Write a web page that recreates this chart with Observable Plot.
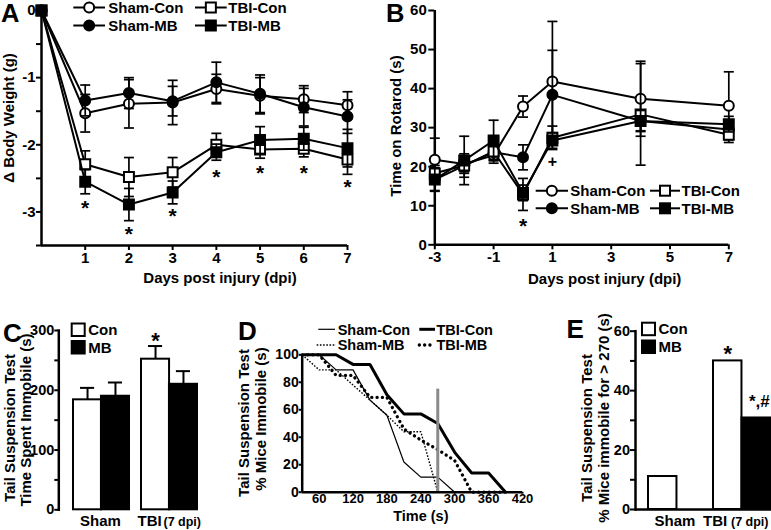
<!DOCTYPE html>
<html>
<head>
<meta charset="utf-8">
<script src="https://cdn.jsdelivr.net/npm/d3@7"></script>
<script src="https://cdn.jsdelivr.net/npm/@observablehq/plot@0.6"></script>
<style>
html,body{margin:0;padding:0;background:#fff;}
#fig{position:relative;width:771px;height:530px;overflow:hidden;background:#fff;}
#fig svg{position:absolute;overflow:visible;background:transparent;}
</style>
</head>
<body>
<div id="fig"></div>
<script>
const FONT = '"Liberation Sans", Arial, Helvetica, sans-serif';

// ================= DATA =================
const seriesNames = ["Sham-Con", "Sham-MB", "TBI-Con", "TBI-MB"];

// Panel A : change in body weight (g)
const daysA = [0, 1, 2, 3, 4, 5, 6, 7];
const shamConA = [0, -1.53, -1.39, -1.37, -1.17, -1.27, -1.32, -1.41];
const shamMBA  = [0, -1.34, -1.23, -1.35, -1.07, -1.24, -1.44, -1.58];
const tbiConA  = [0, -2.29, -2.48, -2.41, -2.00, -2.07, -2.06, -2.22];
const tbiMBA   = [0, -2.55, -2.89, -2.71, -2.11, -1.93, -1.91, -2.05];
const shamConErrA = [0, 0.28, 0.36, 0.33, 0.22, 0.27, 0.2, 0.2];
const shamMBErrA  = [0, 0.23, 0.23, 0.22, 0.3, 0.28, 0.28, 0.25];
const tbiConErrA  = [0, 0.2, 0.29, 0.22, 0.17, 0.13, 0.12, 0.22];
const tbiMBErrA   = [0, 0.18, 0.24, 0.17, 0.12, 0.2, 0.17, 0.28];
const starDaysA = [1, 2, 3, 4, 5, 6, 7];
const starYA = [-2.86, -3.25, -2.97, -2.40, -2.34, -2.34, -2.55];
const xTicksA = [1, 2, 3, 4, 5, 6, 7];
const yTicksA = [0, -1, -2, -3];
const yMinorA = [-0.5, -1.5, -2.5, -3.5];

// Panel B : time on rotarod (s)
const daysB = [-3, -2, -1, 0, 1, 4, 7];
const shamConB = [21.8, 20.7, 22.9, 35.4, 41.8, 37.4, 35.6];
const shamMBB  = [16.7, 20.3, 23.7, 22.4, 38.4, 31.7, 29.5];
const tbiConB  = [18.3, 20.3, 23.9, 12.9, 27.4, 33.4, 28.2];
const tbiMBB   = [16.7, 21.6, 26.7, 13.3, 26.7, 31.7, 30.9];
const shamConErrB = [5.5, 2, 2, 2.7, 15.4, 9.6, 8.7];
const shamMBErrB  = [2.8, 3, 2, 3.2, 11.4, 2.5, 2];
const tbiConErrB  = [2, 2, 2, 4.1, 3, 13, 2];
const tbiMBErrB   = [3, 6.2, 5.2, 2, 2, 2.7, 2];
const starXB = [0];  const starYB = [6.2];
const plusXB = [1];  const plusYB = [21.2];
const xTicksB = [-3, -1, 1, 3, 5, 7];
const yTicksB = [0, 10, 20, 30, 40, 50, 60];

// Panel C : time spent immobile (s)
const groupsCE = ["Sham", "TBI"];
const conC = [184, 252];
const mbC = [190, 210];
const conErrC = [20, 22];
const mbErrC = [23, 22];
const starsC = [{group: "TBI", treat: "Con", y: 292, label: "*"}];
const yTicksC = [0, 100, 200, 300];
const yMinorC = [50, 150, 250];

// Panel D : % mice immobile over time
const timeD = [30, 60, 90, 120, 150, 180, 210, 240, 270, 300, 330, 360, 390];
const shamConD = [100, 100, 89, 89, 67, 56, 22, 11, 11, 0, 0, 0, 0];
const shamMBD  = [100, 89, 89, 78, 67, 56, 44, 44, 0, 0, 0, 0, 0];
const tbiConD  = [100, 100, 100, 93, 93, 71, 57, 57, 50, 29, 14, 14, 0];
const tbiMBD   = [100, 100, 85, 85, 69, 69, 46, 38, 31, 23, 0, 0, 0];
const cutoffD = 270;
const cutoffTopD = 75;
const xTicksD = [60, 120, 180, 240, 300, 360, 420];
const yTicksD = [0, 20, 40, 60, 80, 100];

// Panel E : % mice immobile for > 270 s
const conE = [11.1, 50];
const mbE = [0, 30.8];
const starsE = [{group: "TBI", treat: "Con", y: 54.4, label: "*"}, {group: "TBI", treat: "MB", y: 36.5, label: "*,#"}];
const yTicksE = [0, 20, 40, 60];
const yMinorE = [10, 30, 50];

// ================= STYLE =================
const seriesSymbol = ["circle", "circle", "square", "square"];
const seriesFill = ["white", "black", "white", "black"];
const capSym = {draw(ctx, size) { const r = Math.sqrt(size / Math.PI); ctx.moveTo(-r, 0); ctx.lineTo(r, 0); }};
const fig = document.getElementById("fig");
function place(node, left, top) { node.style.left = left + "px"; node.style.top = top + "px"; fig.appendChild(node); }
const fmt = d => String(d);

function seriesMarks(xs, vals, errs, k, capR) {
  const rows = xs.map((x, i) => ({x, v: vals[i], e: errs[i]}));
  const eb = rows.filter(d => d.e > 0);
  const sym = seriesSymbol[k];
  return [
    Plot.ruleX(eb, {x: "x", y1: d => d.v - d.e, y2: d => d.v + d.e, stroke: "black", strokeWidth: 1.7}),
    Plot.dot(eb, {x: "x", y: d => d.v + d.e, symbol: capSym, r: capR, fill: "none", stroke: "black", strokeWidth: 1.7}),
    Plot.dot(eb, {x: "x", y: d => d.v - d.e, symbol: capSym, r: capR, fill: "none", stroke: "black", strokeWidth: 1.7}),
    Plot.line(rows, {x: "x", y: "v", stroke: "black", strokeWidth: 2, strokeLinejoin: "miter", curve: "linear"}),
    Plot.dot(rows, {x: "x", y: "v", symbol: sym, r: sym === "square" ? 5.6 : 5, fill: seriesFill[k], stroke: "black", strokeWidth: 2})
  ];
}
const baseStyle = size => ({fontFamily: FONT, fontSize: size, fontWeight: "bold", background: "transparent", color: "black", overflow: "visible"});

// ================= PANEL A =================
const valsA = [shamConA, shamMBA, tbiConA, tbiMBA];
const errsA = [shamConErrA, shamMBErrA, tbiConErrA, tbiMBErrA];
const plotA = Plot.plot({
  width: 385, height: 300,
  marginLeft: 41, marginRight: 38, marginTop: 10, marginBottom: 55,
  x: {domain: [0, 7], label: null},
  y: {domain: [-3.5, 0], label: null},
  style: baseStyle("15px"),
  marks: [
    Plot.axisY(yMinorA, {tickSize: 5, tickFormat: () => "", strokeWidth: 2, label: null}),
    Plot.axisY(yTicksA, {tickSize: 5, tickPadding: 1, tickFormat: fmt, strokeWidth: 2, label: null}),
    Plot.axisX(xTicksA, {tickSize: 5, tickPadding: 2, tickFormat: fmt, strokeWidth: 2, label: null}),
    Plot.ruleX([0], {strokeWidth: 2.5}),
    Plot.ruleY([-3.5], {strokeWidth: 2.5}),
    ...valsA.flatMap((v, k) => seriesMarks(daysA, v, errsA[k], k, 5)),
    Plot.text(starDaysA, {x: d => d, y: (d, i) => starYA[i], text: () => "*", fontSize: 21, dy: 6})
  ]
});
place(plotA, 0, 0);

// ================= PANEL B =================
const valsB = [shamConB, shamMBB, tbiConB, tbiMBB];
const errsB = [shamConErrB, shamMBErrB, tbiConErrB, tbiMBErrB];
const plotB = Plot.plot({
  width: 386, height: 300,
  marginLeft: 49.3, marginRight: 42.7, marginTop: 10, marginBottom: 55.7,
  x: {domain: [-3, 7], label: null},
  y: {domain: [0, 60], label: null},
  style: baseStyle("15px"),
  marks: [
    Plot.axisY(yTicksB, {tickSize: 6, tickPadding: 2, tickFormat: fmt, strokeWidth: 2, label: null}),
    Plot.axisX(xTicksB, {tickSize: 5, tickPadding: 2, tickFormat: fmt, strokeWidth: 2, label: null}),
    Plot.ruleX([-3], {strokeWidth: 2.5}),
    Plot.ruleY([0], {strokeWidth: 2.5}),
    ...valsB.flatMap((v, k) => seriesMarks(daysB, v, errsB[k], k, 5)),
    Plot.text(starXB, {x: d => d, y: (d, i) => starYB[i], text: () => "*", fontSize: 21, dy: 6}),
    Plot.text(plusXB, {x: d => d, y: (d, i) => plusYB[i], text: () => "+", fontSize: 16})
  ]
});
place(plotB, 385, 0);

// ================= BAR PANELS (C, E) =================
function barPanel(cfg) {
  const band = d3.scaleBand(groupsCE, [cfg.ml, cfg.width - cfg.mr]).paddingInner(cfg.pi).paddingOuter(cfg.po).align(cfg.align);
  const bw = band.bandwidth();
  const rows = groupsCE.flatMap((g, i) => [
    {g, t: "Con", v: cfg.con[i], e: cfg.conErr ? cfg.conErr[i] : 0},
    {g, t: "MB", v: cfg.mb[i], e: cfg.mbErr ? cfg.mbErr[i] : 0}
  ]);
  const con = rows.filter(d => d.t === "Con"), mb = rows.filter(d => d.t === "MB");
  const cap = 7;
  const errMarks = cfg.conErr ? [
    Plot.ruleX(con, {x: "g", y1: "v", y2: d => d.v + d.e, dx: -bw / 4, strokeWidth: 2}),
    Plot.ruleX(mb, {x: "g", y1: "v", y2: d => d.v + d.e, dx: bw / 4, strokeWidth: 2}),
    Plot.tickY(con, {x: "g", y: d => d.v + d.e, insetLeft: bw / 4 - cap, insetRight: 3 * bw / 4 - cap, strokeWidth: 2}),
    Plot.tickY(mb, {x: "g", y: d => d.v + d.e, insetLeft: 3 * bw / 4 - cap, insetRight: bw / 4 - cap, strokeWidth: 2})
  ] : [];
  const single = cfg.stars.filter(d => d.label === "*");
  const multi = cfg.stars.filter(d => d.label !== "*");
  return Plot.plot({
    width: cfg.width, height: 220,
    marginLeft: cfg.ml, marginRight: cfg.mr, marginTop: cfg.mt, marginBottom: cfg.mb_,
    x: {domain: groupsCE, paddingInner: cfg.pi, paddingOuter: cfg.po, align: cfg.align, label: null, axis: null},
    y: {domain: cfg.yDomain, label: null},
    style: baseStyle("14.5px"),
    marks: [
      Plot.axisY(cfg.yMinor, {tickSize: cfg.tick, tickFormat: () => "", strokeWidth: 2, label: null}),
      Plot.axisY(cfg.yTicks, {tickSize: cfg.tick, tickPadding: 0.5, tickFormat: fmt, strokeWidth: 2, label: null}),
      ...errMarks,
      Plot.barY(con, {x: "g", y: "v", fill: "white", stroke: "black", strokeWidth: 2, insetRight: bw / 2}),
      Plot.barY(mb, {x: "g", y: "v", fill: "black", stroke: "black", strokeWidth: 2, insetLeft: bw / 2}),
      Plot.frame({anchor: "left", strokeWidth: 2.5}),
      ...(cfg.baseline ? [Plot.ruleY([0], {strokeWidth: 2.5})] : []),
      Plot.text(single.filter(d => d.treat === "Con"), {x: "group", y: "y", text: "label", dx: -bw / 4, fontSize: 22, dy: 6}),
      Plot.text(single.filter(d => d.treat === "MB"), {x: "group", y: "y", text: "label", dx: bw / 4, fontSize: 22, dy: 6}),
      Plot.text(multi, {x: "group", y: "y", text: "label", dx: bw / 4 + 3, fontSize: 17, dy: 1}),
      Plot.text(groupsCE.slice(0, 1), {x: d => d, text: d => d, frameAnchor: "bottom", lineAnchor: "top", dy: 6, dx: cfg.shamDx, fontSize: 15}),
      Plot.text(groupsCE.slice(1), {x: d => d, text: d => d, frameAnchor: "bottom", lineAnchor: "top", dy: 6, dx: cfg.tbiDx, textAnchor: "start", fontSize: 15}),
      Plot.text(groupsCE.slice(1), {x: d => d, text: () => "(7 dpi)", frameAnchor: "bottom", lineAnchor: "top", dy: 7.5, dx: cfg.noteDx, textAnchor: "start", fontSize: 12.5})
    ]
  });
}

const plotC = barPanel({
  width: 230, ml: 58.3, mr: 17.7, mt: 20, mb_: 20.7, pi: 0.18, po: 0.22, align: 0.5,
  con: conC, mb: mbC, conErr: conErrC, mbErr: mbErrC, yDomain: [0, 300], yTicks: yTicksC, yMinor: yMinorC, tick: 4,
  stars: starsC, baseline: false, shamDx: -1, tbiDx: -32, noteDx: -6
});
place(plotC, 0, 310);

const plotE = barPanel({
  width: 216, ml: 75, mr: 0.7, mt: 20.7, mb_: 21, pi: 0.125, po: 0.138, align: 0.68,
  con: conE, mb: mbE, yDomain: [0, 60], yTicks: yTicksE, yMinor: yMinorE, tick: 5,
  stars: starsE, baseline: true, shamDx: -2, tbiDx: -39, noteDx: -11
});
place(plotE, 560, 310);

// ================= PANEL D =================
const lineStylesD = [
  {w: 1.2, dash: null, cap: "butt"},
  {w: 1.4, dash: "1.6,1.6", cap: "butt"},
  {w: 3, dash: null, cap: "butt"},
  {w: 3.3, dash: "0.1,5.2", cap: "round"}
];
const valsD = [shamConD, shamMBD, tbiConD, tbiMBD];
const plotD = Plot.plot({
  width: 300, height: 220,
  marginLeft: 71.7, marginRight: 8, marginTop: 44.3, marginBottom: 38.3,
  x: {domain: [30, 420], label: null},
  y: {domain: [0, 100], label: null},
  style: baseStyle("14px"),
  marks: [
    Plot.axisY(yTicksD, {tickSize: 3, tickPadding: 0.5, tickFormat: fmt, strokeWidth: 2, label: null}),
    Plot.axisX(xTicksD, {tickSize: 2, tickPadding: 0, tickFormat: fmt, strokeWidth: 2, label: null, fontSize: 13}),
    ...valsD.map((v, k) => Plot.line(timeD.map((t, i) => ({t, v: v[i]})), {
      x: "t", y: "v", stroke: "black", strokeWidth: lineStylesD[k].w,
      strokeDasharray: lineStylesD[k].dash, strokeLinecap: lineStylesD[k].cap, strokeLinejoin: "miter"
    })),
    Plot.ruleX([cutoffD], {y1: 0, y2: cutoffTopD, stroke: "#8a8a8a", strokeWidth: 3}),
    Plot.ruleX([30], {strokeWidth: 2.5}),
    Plot.ruleY([0], {strokeWidth: 2.5})
  ]
});
place(plotD, 230, 310);

// ================= OVERLAY (panel letters, axis titles, legends) =================
const ov = d3.select(fig).append("svg").attr("width", 771).attr("height", 530)
  .style("left", "0px").style("top", "0px")
  .attr("font-family", FONT).attr("font-weight", "bold");
function T(x, y, s, size, o = {}) {
  const t = ov.append("text").attr("x", x).attr("y", y).attr("font-size", size).text(s);
  if (o.anchor) t.attr("text-anchor", o.anchor);
  if (o.rot) t.attr("transform", `rotate(-90 ${x} ${y})`).attr("dominant-baseline", "central");
  return t;
}
// letters
T(1, 22, "A", 25.5); T(386, 21.5, "B", 25.5); T(3, 341.5, "C", 26); T(238, 340, "D", 26); T(566.5, 337.5, "E", 26);
// axis titles
T(8.3, 118, "Δ Body Weight (g)", 15, {anchor: "middle", rot: true});
T(395, 126, "Time on Rotarod (s)", 15, {anchor: "middle", rot: true});
T(9.7, 428, "Tail Suspension Test", 15, {anchor: "middle", rot: true});
T(25, 420, "Time Spent Immobile (s)", 15, {anchor: "middle", rot: true});
T(243.3, 423, "Tail Suspension Test", 15, {anchor: "middle", rot: true});
T(260, 419, "% Mice Immobile (s)", 15, {anchor: "middle", rot: true});
T(586.7, 428, "Tail Suspension Test", 15, {anchor: "middle", rot: true});
T(603.3, 418, "% Mice immobile for > 270 (s)", 15, {anchor: "middle", rot: true});
T(220, 283.4, "Days post injury (dpi)", 15, {anchor: "middle"});
T(604.7, 283.7, "Days post injury (dpi)", 15, {anchor: "middle"});
T(420.8, 520.5, "Time (s)", 14.5, {anchor: "middle"});

// legend helpers
function sym(x, y, k) {
  if (seriesSymbol[k] === "circle") ov.append("circle").attr("cx", x).attr("cy", y).attr("r", 5).attr("fill", seriesFill[k]).attr("stroke", "black").attr("stroke-width", 2);
  else ov.append("rect").attr("x", x - 5).attr("y", y - 5).attr("width", 10).attr("height", 10).attr("fill", seriesFill[k]).attr("stroke", "black").attr("stroke-width", 2);
}
function markerItem(x1, x2, y, k, tx) {
  ov.append("line").attr("x1", x1).attr("x2", x2).attr("y1", y).attr("y2", y).attr("stroke", "black").attr("stroke-width", 2);
  sym((x1 + x2) / 2, y, k);
  T(tx, y + 5.4, seriesNames[k], 15);
}
// A legend
markerItem(73.3, 105, 7.5, 0, 108.3);
markerItem(73.3, 105, 25.5, 1, 108.3);
markerItem(195, 226.7, 7.5, 2, 228.3);
markerItem(195, 226.7, 25.5, 3, 228.3);
// B legend
markerItem(535.7, 568, 190.7, 0, 570.3);
markerItem(535.7, 568, 208.3, 1, 570.3);
markerItem(650, 680, 190.7, 2, 681.5);
markerItem(650, 680, 208.3, 3, 681.5);
// C / E legends
const treatNames = ["Con", "MB"];
function boxItem(x, y, fill, label) {
  ov.append("rect").attr("x", x).attr("y", y).attr("width", 13).attr("height", 12.5).attr("fill", fill).attr("stroke", "black").attr("stroke-width", 2);
  T(x + 16.5, y + 6.3 + 5.4, label, 15);
}
boxItem(71.7, 323.5, "white", treatNames[0]);
boxItem(71.7, 341, "black", treatNames[1]);
boxItem(642, 322.7, "white", treatNames[0]);
boxItem(642, 340.5, "black", treatNames[1]);
// D legend
function lineItem(x1, x2, y, k, tx) {
  const s = lineStylesD[k];
  const l = ov.append("line").attr("x1", x1).attr("x2", x2).attr("y1", y).attr("y2", y).attr("stroke", "black").attr("stroke-width", s.w).attr("stroke-linecap", s.cap);
  if (s.dash) l.attr("stroke-dasharray", s.dash);
  T(tx, y + 5.2, seriesNames[k], 14.5);
}
lineItem(318.3, 335, 329.3, 0, 337.7);
lineItem(316.7, 336, 345, 1, 337.7);
lineItem(419.3, 435, 329.3, 2, 436.5);
lineItem(419.3, 435, 345, 3, 436.5);
</script>
</body>
</html>
